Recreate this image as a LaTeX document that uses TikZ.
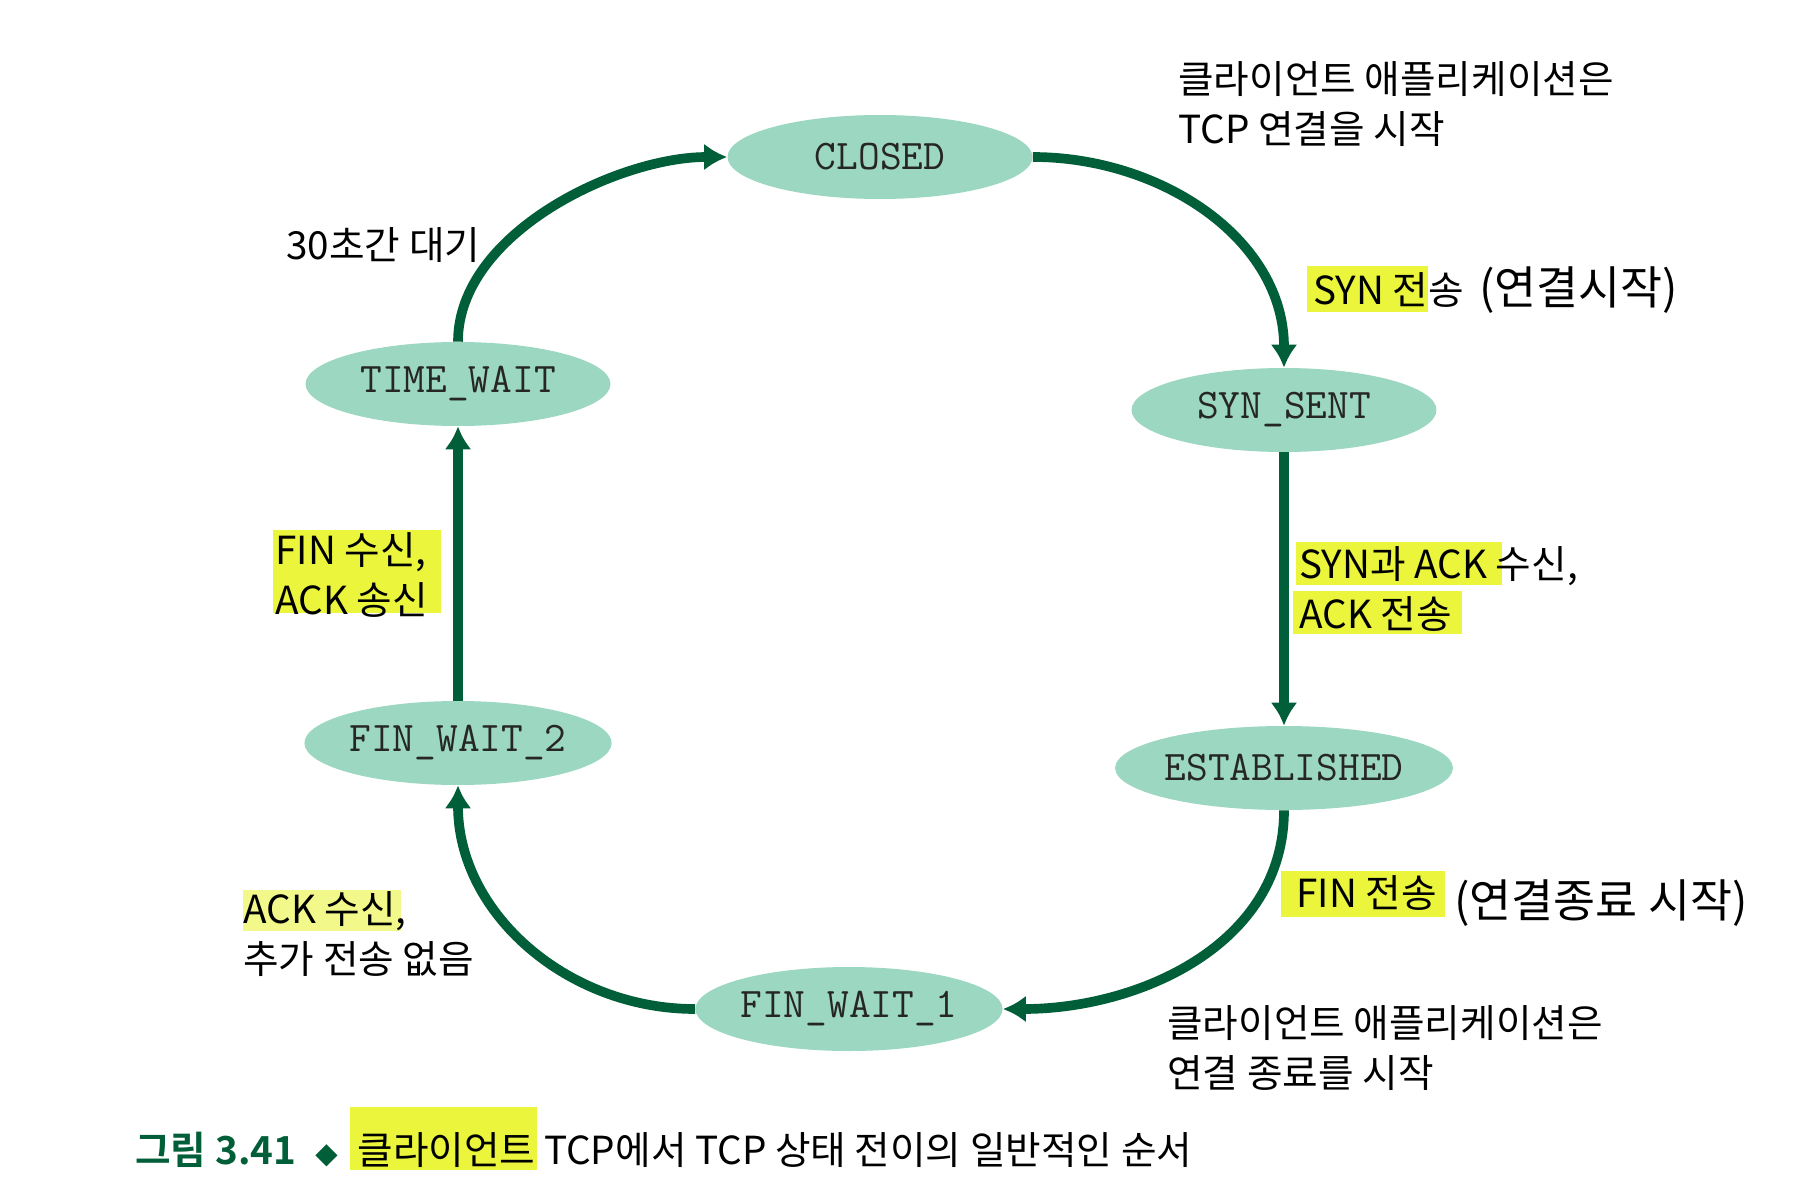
\documentclass[tikz,border=0pt]{standalone}
\usepackage{fontspec}
\setmainfont{Noto Sans CJK KR}[BoldFont={Noto Sans CJK KR Bold}]
\usetikzlibrary{arrows.meta,shapes.geometric}
\definecolor{statefill}{RGB}{155,215,193}
\definecolor{edgegreen}{RGB}{0,94,56}
\definecolor{marker}{RGB}{234,245,60}

\begin{document}
\begin{tikzpicture}[x=0.02cm,y=-0.02cm]
\tikzset{state/.style = {shape=ellipse,fill=statefill,minimum width=6.1cm,minimum height=1.68cm,inner sep=0pt,text=black!85,font=\ttfamily\fontsize{24}{24}\selectfont}}
\tikzset{edge/.style = {->,> = {Latex[length=0.46cm,width=0.54cm]},line width=5.5pt,draw=edgegreen}}
\tikzset{note/.style = {anchor=base west,align=left,inner sep=0pt,font=\fontsize{22}{28}\selectfont}}
\tikzset{hand/.style = {anchor=base west,inner sep=0pt,font=\fontsize{26}{26}\selectfont}}
\tikzset{hl/.style = {fill=marker}}
\useasboundingbox[fill=white] (0,0) rectangle (1798,1193);
% highlights
\fill[hl] (1307,266) rectangle (1428,312);
\fill[hl] (1296,542) rectangle (1502,585);
\fill[hl] (1293,591) rectangle (1462,634);
\fill[hl] (1281,871) rectangle (1445,917);
\fill[hl,opacity=0.6] (243,890) rectangle (401,931);
\fill[hl] (273,530) rectangle (441,613);
\fill[hl] (350,1107) rectangle (537,1170);
% vertices
\node[state] (closed) at (880,157) {CLOSED};
\node[state] (synsent) at (1284,410) {SYN\_SENT};
\node[state] (estab) at (1284,768) {ESTABLISHED};
\node[state] (fwone) at (849,1009) {FIN\_WAIT\_1};
\node[state] (fwtwo) at (458,743) {FIN\_WAIT\_2};
\node[state] (twait) at (458,384) {TIME\_WAIT};
%edges
\draw[edge] (twait.north) to[out=90,in=180,looseness=0.85] (closed.west);
\draw[edge] (closed.east) to[out=0,in=90] (synsent.north);
\draw[edge] (synsent.south) to (estab.north);
\draw[edge] (estab.south) to[out=-90,in=0] (fwone.east);
\draw[edge] (fwone.west) to[out=180,in=-90] (fwtwo.south);
\draw[edge] (fwtwo.north) to (twait.south);
% labels (two-line notes sit on their last line)
\node[note] (appopen) at (1178,143) {클라이언트 애플리케이션은\\TCP 연결을 시작};
\node[note] (synsend) at (1313,304) {SYN 전송};
\node[hand] (synhand) at (1479,304) {(연결시작)};
\node[note] (synack) at (1299,628) {SYN과 ACK 수신,\\ACK 전송};
\node[note] (finsend) at (1296,907) {FIN 전송};
\node[hand] (finhand) at (1454,917) {(연결종료 시작)};
\node[note] (appclose) at (1167,1087) {클라이언트 애플리케이션은\\연결 종료를 시작};
\node[note] (ackrecv) at (243,973) {ACK 수신,\\추가 전송 없음};
\node[note] (finrecv) at (275,614) {FIN 수신,\\ACK 송신};
\node[note] (wait) at (286,259) {30초간 대기};
\node[note] (caption) at (135,1164) {\textcolor{edgegreen}{\textbf{그림 3.41}\enspace{\fontsize{13}{13}\selectfont ◆}}\enspace 클라이언트 TCP에서 TCP 상태 전이의 일반적인 순서};
\end{tikzpicture}
\end{document}
